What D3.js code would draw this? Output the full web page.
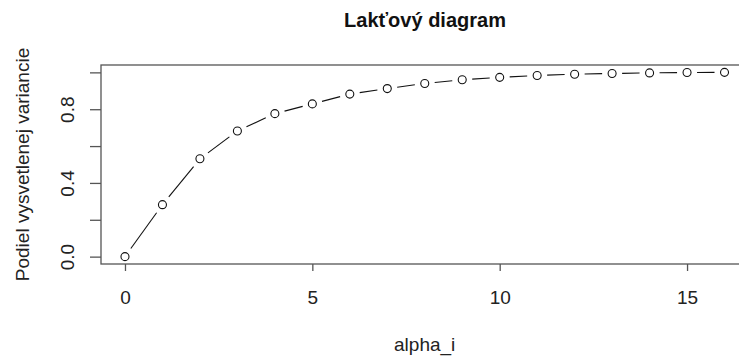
<!DOCTYPE html>
<html>
<head>
<meta charset="utf-8">
<script src="https://cdn.jsdelivr.net/npm/d3@7/dist/d3.min.js"></script>
<style>
  html, body { margin: 0; padding: 0; background: #fff; }
  svg { display: block; font-family: "Liberation Sans", Arial, sans-serif; }
</style>
</head>
<body>
<svg id="chart" width="739" height="358"></svg>
<script>
// Data
const alphaI = [0, 1, 2, 3, 4, 5, 6, 7, 8, 9, 10, 11, 12, 13, 14, 15, 16];
const explainedShare = [0, 0.282, 0.531, 0.682, 0.776, 0.829, 0.882, 0.912, 0.940, 0.960, 0.973, 0.983, 0.990, 0.994, 0.997, 0.999, 1.0];
const xTicks = [0, 5, 10, 15];
const yTicks = [0, 0.2, 0.4, 0.6, 0.8, 1.0];
const yTickLabels = ["0.0", "", "0.4", "", "0.8", ""];
const titleText = "Lakťový diagram";
const xLabel = "alpha_i";
const yLabel = "Podiel vysvetlenej variancie";

const svg = d3.select("#chart");
const plotLeft = 101, plotTop = 65, plotBottom = 264;
const xScale = d3.scaleLinear().domain([-0.64, 16.64]).range([plotLeft, 748.5]);
const yScale = d3.scaleLinear().domain([-0.04, 1.04]).range([plotBottom, plotTop]);
const axisColor = "#555";
const fs = 19;

// plot box
svg.append("rect")
  .attr("x", plotLeft).attr("y", plotTop)
  .attr("width", xScale.range()[1] - plotLeft).attr("height", plotBottom - plotTop)
  .attr("fill", "none").attr("stroke", axisColor).attr("stroke-width", 1.3);

// x axis
const xAxis = d3.axisBottom(xScale).tickValues(xTicks).tickSize(7).tickPadding(20).tickFormat(d3.format("d"));
const gx = svg.append("g").attr("transform", `translate(0,${plotBottom})`).call(xAxis);
gx.select(".domain").remove();
gx.selectAll("line").attr("stroke", axisColor).attr("stroke-width", 1.3);
gx.selectAll("text").attr("font-size", fs).attr("fill", "#222").attr("font-family", "Liberation Sans, Arial, sans-serif");

// y axis
const yAxis = d3.axisLeft(yScale).tickValues(yTicks).tickSize(11).tickPadding(0).tickFormat((d, i) => yTickLabels[i]);
const gy = svg.append("g").attr("transform", `translate(${plotLeft},0)`).call(yAxis);
gy.select(".domain").remove();
gy.selectAll("line").attr("stroke", axisColor).attr("stroke-width", 1.3);
gy.selectAll("text")
  .attr("font-size", fs).attr("fill", "#222").attr("font-family", "Liberation Sans, Arial, sans-serif")
  .attr("x", null).attr("dy", null)
  .attr("text-anchor", "middle")
  .attr("transform", "translate(-27,0) rotate(-90)");

// connecting segments with gaps (type = "b")
const gap = 10;
const pts = alphaI.map((a, i) => [xScale(a), yScale(explainedShare[i])]);
const segs = [];
for (let i = 0; i < pts.length - 1; i++) {
  const [x0, y0] = pts[i], [x1, y1] = pts[i + 1];
  const dx = x1 - x0, dy = y1 - y0, len = Math.hypot(dx, dy);
  if (len > 2 * gap) {
    const ux = dx / len, uy = dy / len;
    segs.push([x0 + ux * gap, y0 + uy * gap, x1 - ux * gap, y1 - uy * gap]);
  }
}
svg.append("g").selectAll("line").data(segs).join("line")
  .attr("x1", d => d[0]).attr("y1", d => d[1]).attr("x2", d => d[2]).attr("y2", d => d[3])
  .attr("stroke", "#111").attr("stroke-width", 1.1);

svg.append("g").selectAll("circle").data(alphaI).join("circle")
  .attr("cx", d => xScale(d)).attr("cy", (d, i) => yScale(explainedShare[i]))
  .attr("r", 4).attr("fill", "none").attr("stroke", "#111").attr("stroke-width", 1.1);

// title
svg.append("text").attr("x", 425).attr("y", 27).attr("text-anchor", "middle")
  .attr("font-size", 20).attr("font-weight", "bold").attr("fill", "#111").text(titleText);
// x label
svg.append("text").attr("x", 424.7).attr("y", 351).attr("text-anchor", "middle")
  .attr("font-size", fs).attr("fill", "#222").text(xLabel);
// y label
svg.append("text").attr("transform", `translate(29,${(plotTop + plotBottom) / 2}) rotate(-90)`).attr("text-anchor", "middle")
  .attr("font-size", fs).attr("fill", "#222").text(yLabel);
</script>
</body>
</html>
